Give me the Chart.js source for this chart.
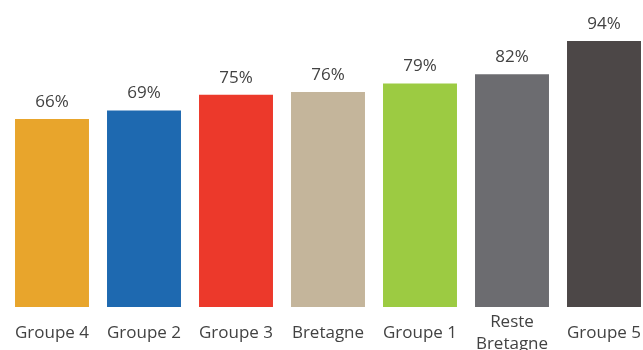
<!DOCTYPE html>
<html>
<head>
<meta charset="utf-8">
<script src="https://cdn.jsdelivr.net/npm/chart.js@4/dist/chart.umd.min.js"></script>
<style>
  html, body { margin: 0; padding: 0; background: #ffffff; overflow: hidden; width: 643px; height: 350px; }
  #wrap { position: relative; width: 656px; height: 350px; }
</style>
</head>
<body>
<div id="wrap"><canvas id="c" width="656" height="350"></canvas></div>
<script>
const categories = ["Groupe 4", "Groupe 2", "Groupe 3", "Bretagne", "Groupe 1", ["Reste", "Bretagne"], "Groupe 5"];
const values = [66.4, 69.4, 75, 76, 79, 82.2, 94];
const valueLabels = ["66%", "69%", "75%", "76%", "79%", "82%", "94%"];
const barColors = ["#E8A52C", "#1E69B0", "#EC392B", "#C4B59B", "#9CCB42", "#6C6C70", "#4C4747"];

const FONT = "'Open Sans', 'Noto Sans', sans-serif";
const TEXT = "#424242";

const labelsPlugin = {
  id: 'customLabels',
  afterDatasetsDraw(chart) {
    const ctx = chart.ctx;
    const meta = chart.getDatasetMeta(0);
    const xScale = chart.scales.x;
    const area = chart.chartArea;
    ctx.save();
    ctx.fillStyle = TEXT;
    ctx.textAlign = 'center';
    ctx.textBaseline = 'middle';
    ctx.font = "17px " + FONT;
    meta.data.forEach((bar, i) => {
      ctx.fillText(valueLabels[i], bar.x, bar.y - 17);
    });
    const lineH = 22;
    categories.forEach((cat, i) => {
      const x = xScale.getPixelForValue(i);
      const lines = Array.isArray(cat) ? cat : [cat];
      const cy = area.bottom + 26;
      const start = cy - (lines.length - 1) * lineH / 2;
      lines.forEach((ln, j) => ctx.fillText(ln, x, start + j * lineH));
    });
    ctx.restore();
  }
};

new Chart(document.getElementById('c'), {
  type: 'bar',
  data: {
    labels: categories,
    datasets: [{
      data: values,
      backgroundColor: barColors,
      borderWidth: 0,
      categoryPercentage: 1.0,
      barPercentage: 0.804
    }]
  },
  options: {
    responsive: false,
    animation: false,
    devicePixelRatio: 1,
    layout: { padding: { left: 6, right: 6, top: 24, bottom: 43 } },
    plugins: { legend: { display: false }, tooltip: { enabled: false }, title: { display: false } },
    scales: {
      x: { display: false },
      y: { display: false, min: 0, max: 100 }
    }
  },
  plugins: [labelsPlugin]
});
</script>
</body>
</html>
